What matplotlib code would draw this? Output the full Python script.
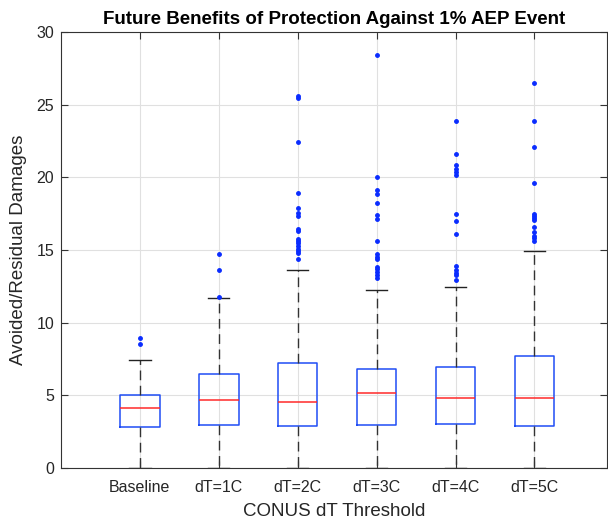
import numpy as np
import matplotlib.pyplot as plt

# ── Box statistics ────────────────────────────────────────────────────────────
labels = ["Baseline", "dT=1C", "dT=2C", "dT=3C", "dT=4C", "dT=5C"]
whislo = [0, 0, 0, 0, 0, 0]
q1 = [2.79, 2.93, 2.86, 2.95, 3.05, 2.88]
med = [4.13, 4.70, 4.54, 5.16, 4.82, 4.84]
q3 = [5.05, 6.47, 7.21, 6.84, 6.95, 7.71]
whishi = [7.46, 11.67, 13.6, 12.24, 12.47, 14.95]

fliers_base = [8.56, 8.95]
fliers_1c = [11.8, 13.6, 14.72]
fliers_2c = [14.36, 14.77, 14.95, 15.1, 15.28, 15.46, 15.64, 15.76, 16.31, 16.45,
             17.32, 17.57, 17.92, 18.95, 22.43, 25.46, 25.6]
fliers_3c = [13.09, 13.28, 13.46, 13.67, 13.85, 14.40, 14.54, 14.70, 15.6, 17.12,
             17.39, 18.22, 18.84, 19.14, 19.99, 28.45]
fliers_4c = [12.93, 13.25, 13.44, 13.6, 13.92, 16.08, 17.02, 17.5, 20.15, 20.36,
             20.56, 20.82, 21.62, 23.87]
fliers_5c = [15.64, 15.8, 15.97, 16.24, 16.61, 17.07, 17.2, 17.34, 17.48, 19.6,
             22.12, 23.9, 26.5]
fliers = [fliers_base, fliers_1c, fliers_2c, fliers_3c, fliers_4c, fliers_5c]

stats = []
for i in range(len(labels)):
    stats.append(dict(label=labels[i], whislo=whislo[i], q1=q1[i], med=med[i],
                      q3=q3[i], whishi=whishi[i], fliers=fliers[i]))

plt.rcParams['font.family'] = ['Liberation Sans', 'DejaVu Sans']

fig = plt.figure(figsize=(6.08, 5.22), dpi=100)
ax = fig.add_axes([61 / 608, 1 - 468 / 522, 546 / 608, 436 / 522])

pos = np.arange(1, len(labels) + 1)
ax.bxp(stats, positions=pos, widths=0.5, capwidths=0.27,
       boxprops=dict(color='#1f4df5', linewidth=1.1),
       medianprops=dict(color='#ff2a2a', linewidth=1.1),
       whiskerprops=dict(color='#333333', linewidth=1.0, linestyle=(0, (7, 4))),
       capprops=dict(color='#222222', linewidth=1.0),
       flierprops=dict(marker='o', markersize=2.5, markerfacecolor='#0a2cff',
                       markeredgecolor='#0a2cff', linestyle='none'))

ax.set_xlim(0, 6.92)
ax.set_ylim(0, 30)
ax.set_yticks([0, 5, 10, 15, 20, 25, 30])
ax.set_xticks(pos)
ax.set_xticklabels(labels)
ax.grid(True, color='#e0e0e0', linewidth=0.8)
ax.set_axisbelow(True)
ax.tick_params(direction='in', top=True, right=True, length=5, labelsize=11.5,
               color='#333333', labelcolor='#262626', width=0.8)
ax.tick_params(axis='x', pad=8.5)
ax.tick_params(axis='y', pad=5)
for s in ax.spines.values():
    s.set_color('#333333')
    s.set_linewidth(0.8)

ax.set_title("Future Benefits of Protection Against 1% AEP Event",
             fontsize=13.5, fontweight='bold', pad=6)
ax.set_xlabel("CONUS dT Threshold", fontsize=13.5, color='#262626', labelpad=6)
ax.set_ylabel("Avoided/Residual Damages", fontsize=13.5, color='#262626', labelpad=7)

plt.savefig("out.png", dpi=100)
